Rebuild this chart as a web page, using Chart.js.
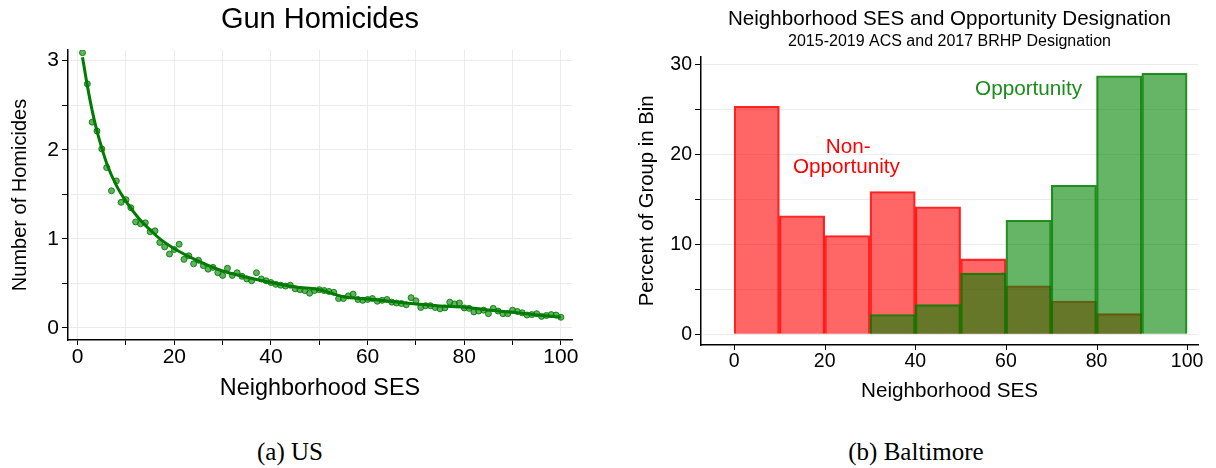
<!DOCTYPE html>
<html>
<head>
<meta charset="utf-8">
<script src="https://cdn.jsdelivr.net/npm/chart.js@4.4.1/dist/chart.umd.min.js"></script>
<style>
  html, body { margin: 0; padding: 0; background: #fff; }
  .box { position: absolute; top: 0; }
  .cap { position: absolute; top: 437px; width: 240px; text-align: center;
         font-family: "Liberation Serif", "DejaVu Serif", serif; font-size: 25px; line-height: 30px; color: #000; }
</style>
</head>
<body>
<div class="box" style="left:0;width:600px;height:420px"><canvas id="c1" width="600" height="420"></canvas></div>
<div class="box" style="left:600px;width:616px;height:420px"><canvas id="c2" width="616" height="420"></canvas></div>
<div class="cap" style="left:170px">(a) US</div>
<div class="cap" style="left:796px">(b) Baltimore</div>
<script>
// ---------- Panel (a): US gun homicides ----------
const usSES = [1,2,3,4,5,6,7,8,9,10,11,12,13,14,15,16,17,18,19,20,
  21,22,23,24,25,26,27,28,29,30,31,32,33,34,35,36,37,38,39,40,
  41,42,43,44,45,46,47,48,49,50,51,52,53,54,55,56,57,58,59,60,
  61,62,63,64,65,66,67,68,69,70,71,72,73,74,75,76,77,78,79,80,
  81,82,83,84,85,86,87,88,89,90,91,92,93,94,95,96,97,98,99,100];
const usHomicides = [3.09,2.74,2.31,2.21,2.01,1.80,1.54,1.65,1.41,1.44,
  1.35,1.19,1.17,1.18,1.08,1.09,0.96,0.91,0.83,0.88,
  0.94,0.77,0.81,0.72,0.76,0.70,0.66,0.68,0.62,0.59,
  0.67,0.59,0.62,0.58,0.55,0.53,0.62,0.55,0.53,0.51,
  0.49,0.48,0.47,0.48,0.44,0.43,0.42,0.39,0.42,0.43,
  0.42,0.41,0.40,0.33,0.33,0.36,0.38,0.32,0.31,0.32,
  0.33,0.30,0.31,0.32,0.29,0.28,0.275,0.26,0.34,0.305,
  0.23,0.25,0.25,0.23,0.215,0.225,0.29,0.27,0.28,0.225,
  0.22,0.18,0.19,0.20,0.16,0.22,0.19,0.16,0.16,0.20,
  0.185,0.17,0.145,0.15,0.16,0.13,0.14,0.15,0.145,0.12];
const fitSES = [1,2,3,4,5,6,8,10,12.5,15,17.5,20,25,30,35,40,45,50,55,60,65,70,75,80,85,90,95,100];
const fitValues = [3.04,2.72,2.44,2.21,2.02,1.85,1.60,1.42,1.24,1.10,0.98,0.89,0.75,0.64,0.57,0.51,0.46,0.43,0.35,0.325,0.296,0.27,0.247,0.233,0.202,0.176,0.146,0.12];
const usXTicks = [0,10,20,30,40,50,60,70,80,90,100];
const usYTicks = [0,0.5,1,1.5,2,2.5,3];

// ---------- Panel (b): Baltimore histogram ----------
const binCenters = [5,15,25,35,45,55,65,75,85,95];
const nonOpportunity = [25.4,13.2,11.0,15.9,14.2,8.4,5.4,3.7,2.3,null];
const opportunity = [null,null,null,2.2,3.3,6.8,12.7,16.6,28.8,29.1];
const balXTicks = [0,20,40,60,80,100];
const balYTicks = [0,5,10,15,20,25,30];

const SANS = '"Liberation Sans", Arial, Helvetica, sans-serif';
Chart.defaults.font.family = SANS;
Chart.defaults.color = '#000';

const pts = (xs, ys) => xs.map((x, i) => ({x: x, y: ys[i]}));
const setTicks = arr => (scale) => { scale.ticks = arr.map(v => ({value: v})); };

new Chart(document.getElementById('c1'), {
  type: 'scatter',
  data: {
    datasets: [
      { type: 'line', data: pts(fitSES, fitValues), borderColor: '#007a00', borderWidth: 3,
        pointRadius: 0, cubicInterpolationMode: 'monotone', fill: false, order: 0 },
      { type: 'scatter', data: pts(usSES, usHomicides), pointRadius: 3,
        backgroundColor: 'rgba(30,145,30,0.7)', borderColor: 'rgba(0,120,0,0.85)', borderWidth: 1, order: 1 }
    ]
  },
  options: {
    responsive: false, animation: false, devicePixelRatio: 1,
    layout: { padding: { left: 0, right: 28, top: 0, bottom: 0 } },
    plugins: {
      legend: { display: false }, tooltip: { enabled: false },
      title: { display: true, text: 'Gun Homicides', fullSize: false,
               font: { size: 29, weight: 'normal' }, padding: { top: 3, bottom: 12.2 }, color: '#000' }
    },
    scales: {
      x: { type: 'linear', min: -2, max: 102.3,
           afterBuildTicks: setTicks(usXTicks),
           afterFit: s => { s.height = 80; },
           ticks: { font: { size: 21 }, padding: 0, maxRotation: 0, autoSkip: false,
                    callback: v => (v % 20 === 0 ? String(v) : '') },
           grid: { color: '#ebebeb', lineWidth: 1, tickLength: 5, tickColor: '#000', drawOnChartArea: true },
           border: { display: true, color: '#000', width: 1.5 },
           title: { display: true, text: 'Neighborhood SES', font: { size: 23.4 }, padding: { top: 0, bottom: 17 } } },
      y: { type: 'linear', min: -0.135, max: 3.12,
           afterBuildTicks: setTicks(usYTicks),
           afterFit: s => { s.width = 68; },
           ticks: { font: { size: 21 }, padding: 3, autoSkip: false,
                    callback: v => (Number.isInteger(v) ? String(v) : '') },
           grid: { color: '#ebebeb', lineWidth: 1, tickLength: 6, tickColor: '#000', drawOnChartArea: true },
           border: { display: true, color: '#000', width: 1.5 },
           title: { display: true, text: 'Number of Homicides', font: { size: 20 }, padding: { top: 8, bottom: 0 } } }
    }
  }
});

const labelPlugin = {
  id: 'binLabels',
  afterDatasetsDraw(chart) {
    const {ctx, scales: {x, y}} = chart;
    ctx.save();
    ctx.font = '20.7px ' + SANS;
    ctx.textAlign = 'center';
    ctx.textBaseline = 'middle';
    ctx.fillStyle = '#ff0000';
    ctx.fillText('Non-', x.getPixelForValue(25.2), y.getPixelForValue(20.8));
    ctx.fillText('Opportunity', x.getPixelForValue(24.8), y.getPixelForValue(18.6));
    ctx.fillStyle = '#1a8c1a';
    ctx.fillText('Opportunity', x.getPixelForValue(65.0), y.getPixelForValue(27.3));
    ctx.restore();
  },
  afterDraw(chart) {
    // x-axis tick marks exactly at the labelled values
    const {ctx, scales: {x}} = chart;
    ctx.save();
    ctx.strokeStyle = '#000';
    ctx.lineWidth = 1;
    ctx.beginPath();
    balXTicks.forEach(v => {
      const px = Math.round(x.getPixelForValue(v)) + 0.5;
      ctx.moveTo(px, x.top);
      ctx.lineTo(px, x.top + 5);
    });
    ctx.stroke();
    ctx.restore();
  }
};

new Chart(document.getElementById('c2'), {
  type: 'bar',
  data: {
    datasets: [
      { label: 'Opportunity', data: pts(binCenters, opportunity),
        backgroundColor: 'rgba(0,130,0,0.6)', borderColor: 'rgba(0,125,0,0.85)', borderWidth: 1.5 },
      { label: 'Non-Opportunity', data: pts(binCenters, nonOpportunity),
        backgroundColor: 'rgba(255,0,0,0.6)', borderColor: 'rgba(255,0,0,0.85)', borderWidth: 1.5 }
    ]
  },
  plugins: [labelPlugin],
  options: {
    responsive: false, animation: false, devicePixelRatio: 1,
    grouped: false, barPercentage: 1, categoryPercentage: 1,
    layout: { padding: { left: 0, right: 18, top: 0, bottom: 0 } },
    plugins: {
      legend: { display: false }, tooltip: { enabled: false },
      title: { display: true, text: 'Neighborhood SES and Opportunity Designation', fullSize: false,
               font: { size: 20.6, weight: 'normal' }, padding: { top: 7, bottom: 0 }, color: '#000' },
      subtitle: { display: true, text: '2015-2019 ACS and 2017 BRHP Designation', fullSize: false,
               font: { size: 16 }, padding: { top: 0, bottom: 6 }, color: '#000' }
    },
    scales: {
      x: { type: 'linear', min: -7.3, max: 102.4, offset: false,
           afterBuildTicks: setTicks(balXTicks),
           afterFit: s => { s.height = 75; },
           ticks: { font: { size: 19.5 }, padding: 5, maxRotation: 0, autoSkip: false },
           grid: { display: false, offset: false, drawOnChartArea: false, drawTicks: false },
           border: { display: true, color: '#000', width: 1.5 },
           title: { display: true, text: 'Neighborhood SES', font: { size: 20.7 }, padding: { top: 0, bottom: 16.6 } } },
      y: { type: 'linear', min: -1.2, max: 30.9,
           afterBuildTicks: setTicks(balYTicks),
           afterFit: s => { s.width = 101; },
           ticks: { font: { size: 19.5 }, padding: 3, autoSkip: false,
                    callback: v => (v % 10 === 0 ? String(v) : '') },
           grid: { color: '#ebebeb', lineWidth: 1, tickLength: 6, tickColor: '#000', drawOnChartArea: true },
           border: { display: true, color: '#000', width: 1.5 },
           title: { display: true, text: 'Percent of Group in Bin', font: { size: 20.3 }, padding: { top: 35.7, bottom: 0 } } }
    }
  }
});
</script>
</body>
</html>
